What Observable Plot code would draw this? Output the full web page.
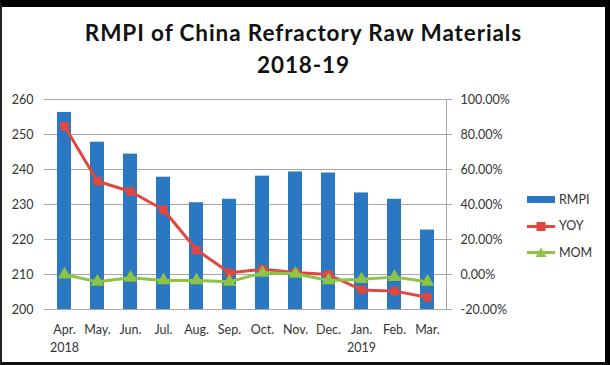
<!DOCTYPE html>
<html>
<head>
<meta charset="utf-8">
<script src="https://cdn.jsdelivr.net/npm/d3@7"></script>
<script src="https://cdn.jsdelivr.net/npm/@observablehq/plot@0.6"></script>
<style>
  html, body { margin: 0; padding: 0; background: #fff; }
  #wrap { position: relative; width: 610px; height: 365px; overflow: hidden; font-family: Lato, "Open Sans", sans-serif; }
  #border { position: absolute; left: 0; top: 0; width: 610px; height: 365px; box-sizing: border-box;
    border-top: 7px solid #000; border-left: 2px solid #222; border-right: 5px solid #000; border-bottom: 3px solid #111; pointer-events: none; }
  #title { height: 88px; box-sizing: border-box; padding-top: 17px; text-align: center; font-weight: bold; font-size: 22.5px; letter-spacing: 0.9px; line-height: 32px; color: #111; padding-left: 2px; padding-right: 5px; }
  #legend { position: absolute; left: 526px; top: 186px; font-size: 12.5px; color: #333; }
  .item { display: flex; align-items: center; height: 26.5px; }
  .item svg { margin-right: 3px; }
</style>
</head>
<body>
<div id="wrap">
  <div id="title">RMPI of China Refractory Raw Materials<br>2018-19</div>
  <div id="chart"></div>
  <div id="legend"></div>
  <div id="border"></div>
</div>
<script>
const months = ["Apr.","May.","Jun.","Jul.","Aug.","Sep.","Oct.","Nov.","Dec.","Jan.","Feb.","Mar."];
const rmpi = [256.3, 247.8, 244.4, 237.8, 230.5, 231.5, 238.1, 239.3, 239.0, 233.3, 231.5, 222.7];
const yoy = [84.7, 53.3, 47.4, 37.0, 14.1, 1.0, 3.0, 1.1, 0.0, -8.8, -9.5, -13.0];
const mom = [0.0, -4.2, -1.9, -3.4, -3.4, -4.2, 1.0, 0.4, -3.4, -2.7, -1.5, -4.2];
const yearMonths = ["Apr.", "Jan."];
const yearLabels = ["2018", "2019"];
const leftTicks = [200, 210, 220, 230, 240, 250, 260];
const rightTicks = [-20, 0, 20, 40, 60, 80, 100];
const seriesNames = ["RMPI", "YOY", "MOM"];

const blue = "#2b78c2", red = "#e2473f", green = "#8dc445";
const toY = p => 210 + p / 2;

const table = months.map((m, i) => ({month: m, rmpi: rmpi[i], yoy: yoy[i], mom: mom[i]}));
const years = yearMonths.map((m, i) => ({month: m, year: yearLabels[i]}));

const chart = Plot.plot({
  width: 610,
  height: 277,
  marginTop: 11,
  marginBottom: 56,
  marginLeft: 44,
  marginRight: 164,
  style: {fontFamily: "Lato, 'Open Sans', sans-serif", fontSize: "12.5px", color: "#333", background: "transparent", overflow: "visible"},
  x: {domain: months, paddingInner: 0.58, paddingOuter: 0.29, axis: null},
  y: {domain: [200, 260], axis: null},
  marks: [
    Plot.gridY(leftTicks, {stroke: "#a8a8a8", strokeOpacity: 1}),
    Plot.frame({anchor: "right", stroke: "#a8a8a8"}),
    Plot.barY(table, {x: "month", y1: 200, y2: "rmpi", fill: blue}),
    Plot.line(table, {x: "month", y: d => toY(d.yoy), stroke: red, strokeWidth: 3}),
    Plot.dot(table, {x: "month", y: d => toY(d.yoy), symbol: "square", r: 4.8, fill: red}),
    Plot.line(table, {x: "month", y: d => toY(d.mom), stroke: green, strokeWidth: 3}),
    Plot.dot(table, {x: "month", y: d => toY(d.mom), symbol: "triangle", r: 5, fill: green}),
    Plot.axisY(leftTicks, {anchor: "left", tickSize: 0, tickPadding: 11, label: null}),
    Plot.axisY(rightTicks.map(toY), {anchor: "right", tickSize: 5, tickPadding: 9, stroke: "#a8a8a8", label: null,
      tickFormat: v => ((v - 210) * 2).toFixed(2) + "%"}),
    Plot.axisX({tickSize: 0, tickPadding: 16, label: null}),
    Plot.text(years, {x: "month", y: () => 200, text: "year", dy: 38})
  ]
});
document.getElementById("chart").appendChild(chart);

// legend
const legend = d3.select("#legend");
seriesNames.forEach((name, i) => {
  const item = legend.append("div").attr("class", "item");
  const s = item.append("svg").attr("width", 30).attr("height", 14);
  if (i === 0) {
    s.append("rect").attr("x", 1).attr("y", 4).attr("width", 28).attr("height", 7).attr("fill", blue);
  } else {
    const c = i === 1 ? red : green;
    s.append("line").attr("x1", 1).attr("x2", 29).attr("y1", 7.5).attr("y2", 7.5).attr("stroke", c).attr("stroke-width", 3);
    if (i === 1) s.append("rect").attr("x", 10.5).attr("y", 3).attr("width", 9).attr("height", 9).attr("fill", c);
    else s.append("path").attr("d", "M15,2.5L20.5,12H9.5Z").attr("fill", c);
  }
  item.append("span").text(name);
});
</script>
</body>
</html>
